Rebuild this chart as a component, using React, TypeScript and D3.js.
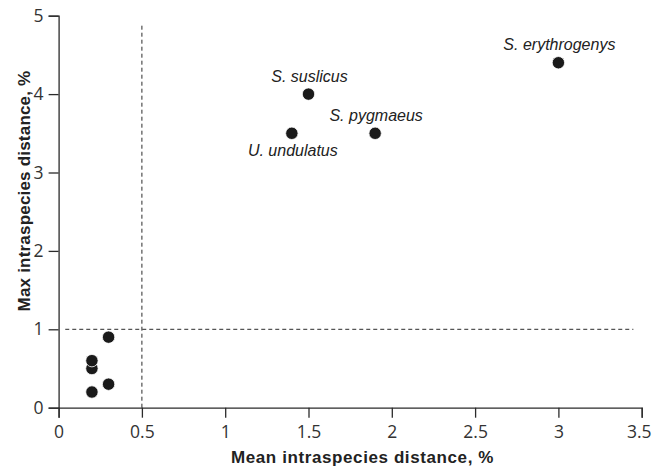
import React, { useEffect, useRef } from "react";
import * as d3 from "d3";

const meanDist = [0.2, 0.2, 0.2, 0.3, 0.3, 1.4, 1.5, 1.9, 3.0];
const maxDist = [0.2, 0.5, 0.6, 0.3, 0.9, 3.5, 4.0, 3.5, 4.4];
const speciesNames = ["", "", "", "", "", "U. undulatus", "S. suslicus", "S. pygmaeus", "S. erythrogenys"];
const xTicks = [0, 0.5, 1, 1.5, 2, 2.5, 3, 3.5];
const yTicks = [0, 1, 2, 3, 4, 5];
const xCut = 0.5;
const yCut = 1;

const W = 652;
const H = 469;

const App = () => {
  const svgRef = useRef<SVGSVGElement>(null);

  useEffect(() => {
    const svg = d3.select(svgRef.current);
    svg.selectAll("*").remove();

    const x = d3.scaleLinear().domain([0, 3.5]).range([58.6, 641.7]);
    const y = d3.scaleLinear().domain([0, 5]).range([407.7, 15.7]);
    const ink = "#2b2b2b";
    const tickFont = "'Open Sans', sans-serif";

    // dashed threshold lines
    svg.append("line")
      .attr("x1", x(xCut)).attr("x2", x(xCut))
      .attr("y1", y(0)).attr("y2", y(4.88))
      .attr("stroke", ink).attr("stroke-width", 1).attr("stroke-dasharray", "4,3");
    svg.append("line")
      .attr("x1", x(0.04)).attr("x2", x(3.45))
      .attr("y1", y(yCut)).attr("y2", y(yCut))
      .attr("stroke", ink).attr("stroke-width", 1).attr("stroke-dasharray", "4,3");

    // x axis
    const gx = svg.append("g").attr("transform", `translate(0,${y(0)})`);
    gx.call(d3.axisBottom(x).tickValues(d3.range(0, 3.501, 0.1)).tickSize(5).tickFormat(() => "") as any);
    gx.call(d3.axisBottom(x).tickValues(xTicks).tickSize(10).tickPadding(8).tickFormat((d: any) => String(d)) as any);
    gx.selectAll(".domain").attr("stroke", ink).attr("stroke-width", 1.3);
    gx.selectAll("line").attr("stroke", ink).attr("stroke-width", 1.3);
    gx.selectAll("text")
      .attr("font-family", tickFont).attr("font-size", 17.5).attr("fill", "#333");
    // last label sits flush with the right edge, as in the original
    gx.selectAll<SVGTextElement, number>("text")
      .filter((d) => d === 3.5)
      .attr("text-anchor", "end").attr("x", W - 1 - x(3.5));

    // y axis
    const gy = svg.append("g").attr("transform", `translate(${x(0)},0)`);
    gy.call(d3.axisLeft(y).tickValues(d3.range(0, 5.001, 0.2)).tickSize(5).tickFormat(() => "") as any);
    gy.call(d3.axisLeft(y).tickValues(yTicks).tickSize(10).tickPadding(5).tickFormat((d: any) => String(d)) as any);
    gy.selectAll(".domain").attr("stroke", ink).attr("stroke-width", 1.3);
    gy.selectAll("line").attr("stroke", ink).attr("stroke-width", 1.3);
    gy.selectAll("text")
      .attr("font-family", tickFont).attr("font-size", 17.5).attr("fill", "#333");

    // points
    const pts = meanDist.map((m, i) => ({ m, v: maxDist[i], name: speciesNames[i] }));
    svg.append("g").selectAll("circle").data(pts).join("circle")
      .attr("cx", (d) => x(d.m)).attr("cy", (d) => y(d.v))
      .attr("r", 6.2).attr("fill", "#1a1a1a").attr("stroke", "#fff").attr("stroke-width", 0.8);

    // species labels
    const below = new Set(["U. undulatus"]);
    svg.append("g").selectAll("text").data(pts.filter((d) => d.name)).join("text")
      .attr("x", (d) => x(d.m) + 1)
      .attr("y", (d) => y(d.v) + (below.has(d.name) ? 23 : -12.5))
      .attr("text-anchor", "middle")
      .attr("font-family", "'Liberation Sans', Arial, sans-serif")
      .attr("font-style", "italic").attr("font-size", 16).attr("fill", "#222")
      .text((d) => d.name);

    // axis titles
    svg.append("text")
      .attr("x", 362.5).attr("y", 463)
      .attr("text-anchor", "middle")
      .attr("font-family", "'Liberation Sans', Arial, sans-serif")
      .attr("font-weight", "bold").attr("font-size", 17).attr("letter-spacing", 0.6).attr("fill", "#222")
      .text("Mean intraspecies distance, %");
    svg.append("text")
      .attr("transform", "translate(30,191) rotate(-90)")
      .attr("text-anchor", "middle")
      .attr("font-family", "'Liberation Sans', Arial, sans-serif")
      .attr("font-weight", "bold").attr("font-size", 17).attr("letter-spacing", 0.2).attr("fill", "#222")
      .text("Max intraspecies distance, %");
  }, []);

  return (
    <svg ref={svgRef} width={W} height={H} style={{ position: "absolute", left: 0, top: 0, background: "#fff" }} />
  );
};

export default App;
